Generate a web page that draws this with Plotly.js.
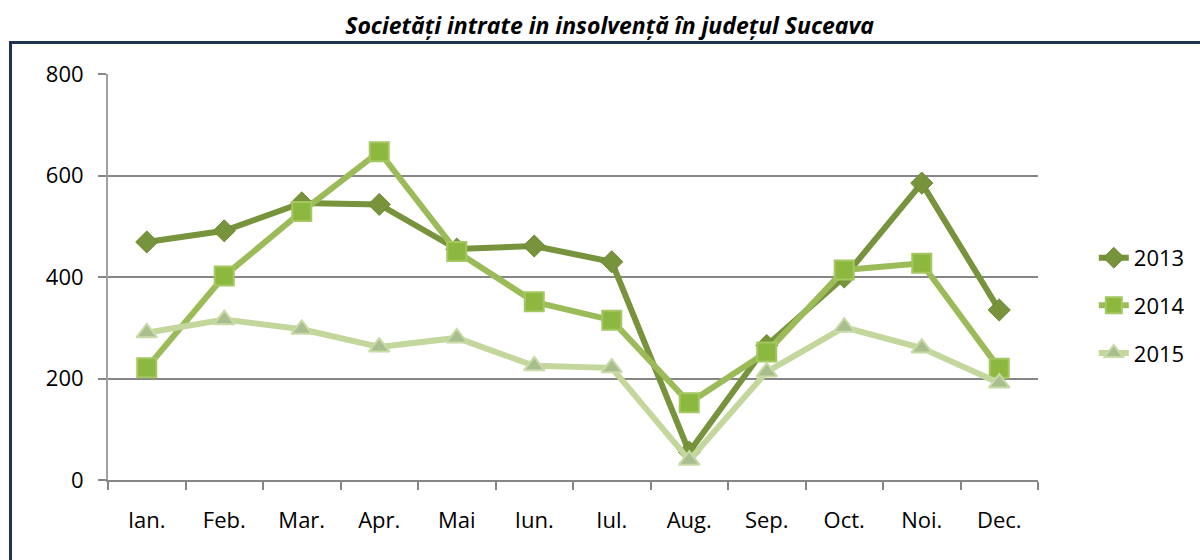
<!DOCTYPE html>
<html>
<head>
<meta charset="utf-8">
<script src="https://cdn.plot.ly/plotly-3.0.1.min.js"></script>
<style>
  html, body { margin: 0; padding: 0; background: #fff; }
  #wrap { position: relative; width: 1200px; height: 560px; overflow: hidden; }
  #chart { width: 1200px; height: 560px; }
  #frame { position: absolute; left: 9px; top: 41px; width: 1200px; height: 600px;
           border: 3px solid #1F3250; pointer-events: none; }
</style>
</head>
<body>
<div id="wrap">
  <div id="chart"></div>
  <div id="frame"></div>
</div>
<script>
const months = ["Ian.", "Feb.", "Mar.", "Apr.", "Mai", "Iun.", "Iul.", "Aug.", "Sep.", "Oct.", "Noi.", "Dec."];
const seriesNames = ["2013", "2014", "2015"];
const v2013 = [469, 491, 546, 543, 455, 461, 430, 55, 265, 400, 585, 335];
const v2014 = [221, 402, 529, 647, 450, 351, 315, 152, 252, 414, 427, 220];
const v2015 = [290, 316, 297, 262, 280, 225, 221, 39, 213, 301, 260, 191];
const yTicks = [0, 200, 400, 600, 800];

const traces = [
  {
    x: months, y: v2013, name: seriesNames[0], type: "scatter", mode: "lines+markers",
    legendgroup: "a",
    line: { color: "#77933C", width: 6 },
    marker: { symbol: "diamond", size: 17, color: "#77933C", line: { color: "#6A8A30", width: 1 } }
  },
  {
    x: months, y: v2014, name: seriesNames[1], type: "scatter", mode: "lines+markers",
    legendgroup: "b",
    line: { color: "#9BBB59", width: 6 },
    marker: { symbol: "square", size: 19, color: "#8DB83F", line: { color: "#A4C860", width: 2 } }
  },
  {
    x: months, y: v2015, name: seriesNames[2], type: "scatter", mode: "lines+markers",
    legendgroup: "c",
    line: { color: "#C3D69B", width: 6 },
    marker: { symbol: "triangle-up", size: 18, color: "#A9BE8E", line: { color: "#C8DAA6", width: 2 } }
  }
];

const tickFont = { family: "Open Sans, Lato, sans-serif", size: 22, color: "#000" };

const layout = {
  width: 1200, height: 560,
  paper_bgcolor: "#ffffff", plot_bgcolor: "#ffffff",
  margin: { l: 108, r: 162, t: 74, b: 80, autoexpand: false },
  title: {
    text: "<b><i>Societăți intrate in insolvență în județul Suceava</i></b>",
    font: { family: "Open Sans, sans-serif", size: 23, color: "#000" },
    x: 0.508, xanchor: "center", y: 0.953, yanchor: "middle"
  },
  font: { family: "Open Sans, Lato, sans-serif", size: 20, color: "#000" },
  xaxis: {
    type: "category",
    range: [-0.5, 11.5],
    tickson: "boundaries",
    ticks: "outside", ticklen: 8, tickcolor: "#868686", tickwidth: 2,
    showline: true, linecolor: "#868686", linewidth: 2,
    showgrid: false, zeroline: false,
    ticklabelstandoff: 20,
    tickfont: tickFont
  },
  yaxis: {
    range: [0, 800],
    tickvals: yTicks,
    ticks: "outside", ticklen: 8, tickcolor: "#868686", tickwidth: 2,
    showline: true, linecolor: "#A0A0A0", linewidth: 2,
    showgrid: true, gridcolor: "#868686", gridwidth: 2,
    zeroline: false,
    ticklabelstandoff: 10,
    tickfont: tickFont
  },
  showlegend: true,
  legend: {
    x: 1.06, xanchor: "left", y: 0.43, yanchor: "middle",
    traceorder: "grouped", tracegroupgap: 16,
    font: tickFont,
    bgcolor: "rgba(0,0,0,0)", itemwidth: 30
  }
};

Plotly.newPlot("chart", traces, layout, { displayModeBar: false, staticPlot: true });
</script>
</body>
</html>
